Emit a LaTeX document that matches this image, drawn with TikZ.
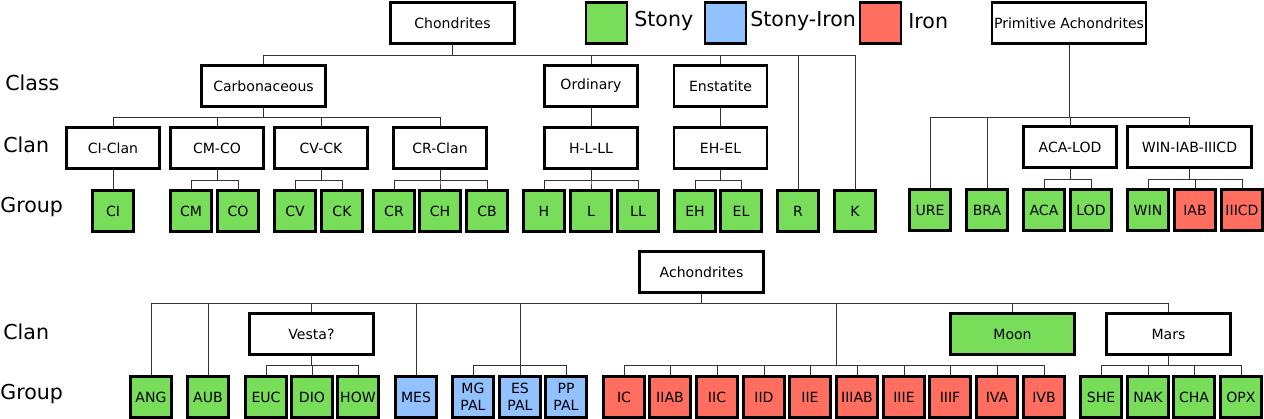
\documentclass[tikz,border=0pt]{standalone}
\usepackage{fontspec}
\setmainfont{DejaVu Sans}
\usepackage{tikz}
\definecolor{stonyc}{RGB}{120,221,88}
\definecolor{stironc}{RGB}{146,193,255}
\definecolor{ironc}{RGB}{255,110,94}
\tikzset{
box/.style={draw, line width=1.2pt, minimum height=0.82cm, inner sep=1pt, align=center,
  font=\fontsize{8}{9.6}\selectfont},
widebox/.style={box, minimum width=2.48cm},
clanbox/.style={box, minimum width=1.86cm},
primbox/.style={box, minimum width=3.06cm},
grp/.style={box, minimum width=0.82cm},
stony/.style={fill=stonyc},
stiron/.style={fill=stironc},
iron/.style={fill=ironc},
link/.style={line width=0.55pt, black!80},
rowlabel/.style={anchor=west, inner sep=0pt, font=\fontsize{11.7}{14}\selectfont},
}

\begin{document}
\begin{tikzpicture}[x=0.02cm,y=-0.02cm]
    \useasboundingbox (0,0) rectangle (1264,419);
    % row labels
    \node[rowlabel] (lclass) at (5,83) {Class};
    \node[rowlabel] (lclan) at (3,145) {Clan};
    \node[rowlabel] (lgroup) at (0,207) {Group};
    \node[rowlabel] (lclanb) at (3,332) {Clan};
    \node[rowlabel] (lgroupb) at (0,394) {Group};
    % legend
    \node[grp, stony] (kstony) at (606.5,23) {};
    \node[rowlabel] (tstony) at (634,21) {Stony};
    \node[grp, stiron] (kstiron) at (725.5,23) {};
    \node[rowlabel] (tstiron) at (750,21) {Stony-Iron};
    \node[grp, iron] (kiron) at (880.5,23) {};
    \node[rowlabel] (tiron) at (908,21) {Iron};
    % chondrites
    \node[widebox] (chon) at (452.5,23) {Chondrites};
    \node[widebox] (carb) at (263.5,86) {Carbonaceous};
    \node[clanbox] (ord) at (591,86) {Ordinary};
    \node[clanbox] (ens) at (720.5,86) {Enstatite};
    \node[clanbox] (ciclan) at (113,148) {CI-Clan};
    \node[clanbox] (cmco) at (217,148) {CM-CO};
    \node[clanbox] (cvck) at (321,148) {CV-CK};
    \node[clanbox] (crclan) at (440,148) {CR-Clan};
    \node[clanbox] (hlll) at (591,148) {H-L-LL};
    \node[clanbox] (ehel) at (720.5,148) {EH-EL};
    \node[grp, stony] (ci) at (113,211) {CI};
    \node[grp, stony] (cm) at (191,211) {CM};
    \node[grp, stony] (co) at (238,211) {CO};
    \node[grp, stony] (cv) at (295,211) {CV};
    \node[grp, stony] (ck) at (342,211) {CK};
    \node[grp, stony] (cr) at (394,211) {CR};
    \node[grp, stony] (ch) at (440,211) {CH};
    \node[grp, stony] (cb) at (487,211) {CB};
    \node[grp, stony] (h) at (544,211) {H};
    \node[grp, stony] (l) at (591,211) {L};
    \node[grp, stony] (ll) at (638,211) {LL};
    \node[grp, stony] (eh) at (695,211) {EH};
    \node[grp, stony] (el) at (741,211) {EL};
    \node[grp, stony] (r) at (798,211) {R};
    \node[grp, stony] (k) at (855,211) {K};
    \foreach \c in {carb,ord,ens,r,k}
        \draw[link] (chon.south) -- ++(0,11) -| (\c.north);
    \foreach \c in {ciclan,cmco,cvck,crclan}
        \draw[link] (carb.south) -- ++(0,10) -| (\c.north);
    \draw[link] (ciclan) -- (ci);
    \foreach \c in {cm,co} \draw[link] (cmco.south) -- ++(0,11) -| (\c.north);
    \foreach \c in {cv,ck} \draw[link] (cvck.south) -- ++(0,11) -| (\c.north);
    \foreach \c in {cr,ch,cb} \draw[link] (crclan.south) -- ++(0,11) -| (\c.north);
    \draw[link] (ord) -- (hlll);
    \draw[link] (ens) -- (ehel);
    \foreach \c in {h,l,ll} \draw[link] (hlll.south) -- ++(0,11) -| (\c.north);
    \foreach \c in {eh,el} \draw[link] (ehel.south) -- ++(0,11) -| (\c.north);
    % primitive achondrites
    \node[primbox] (prim) at (1069,23) {Primitive Achondrites};
    \node[clanbox] (acalod) at (1070,147) {ACA-LOD};
    \node[widebox] (wiab) at (1189.5,147) {WIN-IAB-IIICD};
    \node[grp, stony] (ure) at (930,210) {URE};
    \node[grp, stony] (bra) at (987,210) {BRA};
    \node[grp, stony] (aca) at (1044,210) {ACA};
    \node[grp, stony] (lod) at (1091,210) {LOD};
    \node[grp, stony] (win) at (1148,210) {WIN};
    \node[grp, iron] (iab) at (1195,210) {IAB};
    \node[grp, iron] (iiicd) at (1242,210) {IIICD};
    \foreach \c in {ure,bra,acalod,wiab}
        \draw[link] (prim.south) -- ++(0,73) -| (\c.north);
    \foreach \c in {aca,lod} \draw[link] (acalod.south) -- ++(0,11) -| (\c.north);
    \foreach \c in {win,iab,iiicd} \draw[link] (wiab.south) -- ++(0,11) -| (\c.north);
    % achondrites
    \node[widebox] (ach) at (701.5,272) {Achondrites};
    \node[widebox] (vesta) at (311.5,334) {Vesta?};
    \node[widebox, stony] (moon) at (1012.5,334) {Moon};
    \node[widebox] (mars) at (1168.5,334) {Mars};
    \node[grp, stony] (ang) at (151,397) {ANG};
    \node[grp, stony] (aub) at (208,397) {AUB};
    \node[grp, stony] (euc) at (266,397) {EUC};
    \node[grp, stony] (dio) at (312,397) {DIO};
    \node[grp, stony] (how) at (358,397) {HOW};
    \node[grp, stiron] (mes) at (416,397) {MES};
    \node[grp, stiron] (mgpal) at (473,397) {MG\\PAL};
    \node[grp, stiron] (espal) at (520,397) {ES\\PAL};
    \node[grp, stiron] (pppal) at (566,397) {PP\\PAL};
    \node[grp, iron] (ic) at (624,397) {IC};
    \node[grp, iron] (iiab) at (670,397) {IIAB};
    \node[grp, iron] (iic) at (717,397) {IIC};
    \node[grp, iron] (iid) at (764,397) {IID};
    \node[grp, iron] (iie) at (810,397) {IIE};
    \node[grp, iron] (iiiab) at (857,397) {IIIAB};
    \node[grp, iron] (iiie) at (904,397) {IIIE};
    \node[grp, iron] (iiif) at (950,397) {IIIF};
    \node[grp, iron] (iva) at (997,397) {IVA};
    \node[grp, iron] (ivb) at (1044,397) {IVB};
    \node[grp, stony] (she) at (1101,397) {SHE};
    \node[grp, stony] (nak) at (1148,397) {NAK};
    \node[grp, stony] (cha) at (1194,397) {CHA};
    \node[grp, stony] (opx) at (1241,397) {OPX};
    \coordinate (ironhub) at (836,365);
    \coordinate (palhub) at (520,365);
    \foreach \c in {ang,aub,vesta,mes,espal,ironhub,moon,mars}
        \draw[link] (ach.south) -- ++(0,10) -| (\c.north);
    \foreach \c in {euc,dio,how} \draw[link] (vesta.south) -- ++(0,10) -| (\c.north);
    \foreach \c in {mgpal,pppal} \draw[link] (palhub) -| (\c.north);
    \foreach \c in {ic,iiab,iic,iid,iie,iiiab,iiie,iiif,iva,ivb}
        \draw[link] (ironhub) -| (\c.north);
    \foreach \c in {she,nak,cha,opx} \draw[link] (mars.south) -- ++(0,10) -| (\c.north);
\end{tikzpicture}
\end{document}
